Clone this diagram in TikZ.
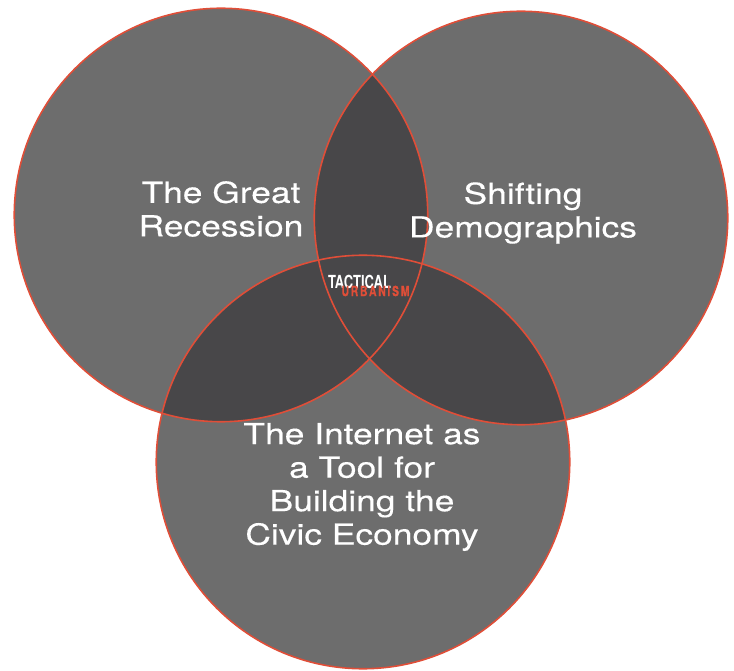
\documentclass[tikz,border=0pt]{standalone}
\usepackage{fontspec}
\usepackage{tikz}
\usetikzlibrary{shapes.geometric}
\setmainfont[FakeStretch=1.22,FakeBold=0.25]{TeX Gyre Heros}
\newfontfamily\tacticalfont[FakeStretch=0.72]{TeX Gyre Heros}
\newfontfamily\urbanismfont[FakeStretch=0.75,LetterSpace=12,FakeBold=0.4]{TeX Gyre Heros}
\definecolor{vennfill}{HTML}{6D6D6D}
\definecolor{venndark}{HTML}{484749}
\definecolor{vennred}{HTML}{E04E38}
\tikzset{
  vennset/.style={circle,draw=vennred,line width=1.6pt,minimum size=413.5pt,inner sep=0pt},
  vennlabel/.style={white,align=center,font=\fontsize{29}{33.5}\selectfont}
}
\begin{document}
\begin{tikzpicture}[x=1pt,y=1pt]
\useasboundingbox (0,0) rectangle (734,670);
%
\fill[vennfill] (221,455) circle (206.75);
\fill[vennfill] (521,452) circle (206.75);
\fill[vennfill] (363,208) circle (206.75);
%
\begin{scope}
\clip (221,455) circle (206.75);
\fill[venndark] (521,452) circle (206.75);
\fill[venndark] (363,208) circle (206.75);
\end{scope}
\begin{scope}
\clip (521,452) circle (206.75);
\fill[venndark] (363,208) circle (206.75);
\end{scope}
%
\node [vennset] at (221,455) (recession) {};
\node [vennset] at (521,452) (demographics) {};
\node [vennset] at (363,208) (internet) {};
%
\node [vennlabel] at (221,461) (recession text) {The Great\\Recession};
\node [vennlabel] at (523,457) (demographics text) {Shifting\\Demographics};
\node [vennlabel] at (362,183) (internet text) {The Internet as\\a Tool for\\Building the\\Civic Economy};
%
\node [white,font=\tacticalfont\bfseries\fontsize{18}{20}\selectfont] at (359.5,388.5) (tactical) {TACTICAL};
\node [vennred,font=\urbanismfont\bfseries\fontsize{14}{16}\selectfont] at (375.5,379) (urbanism) {URBANISM};
\end{tikzpicture}
\end{document}
